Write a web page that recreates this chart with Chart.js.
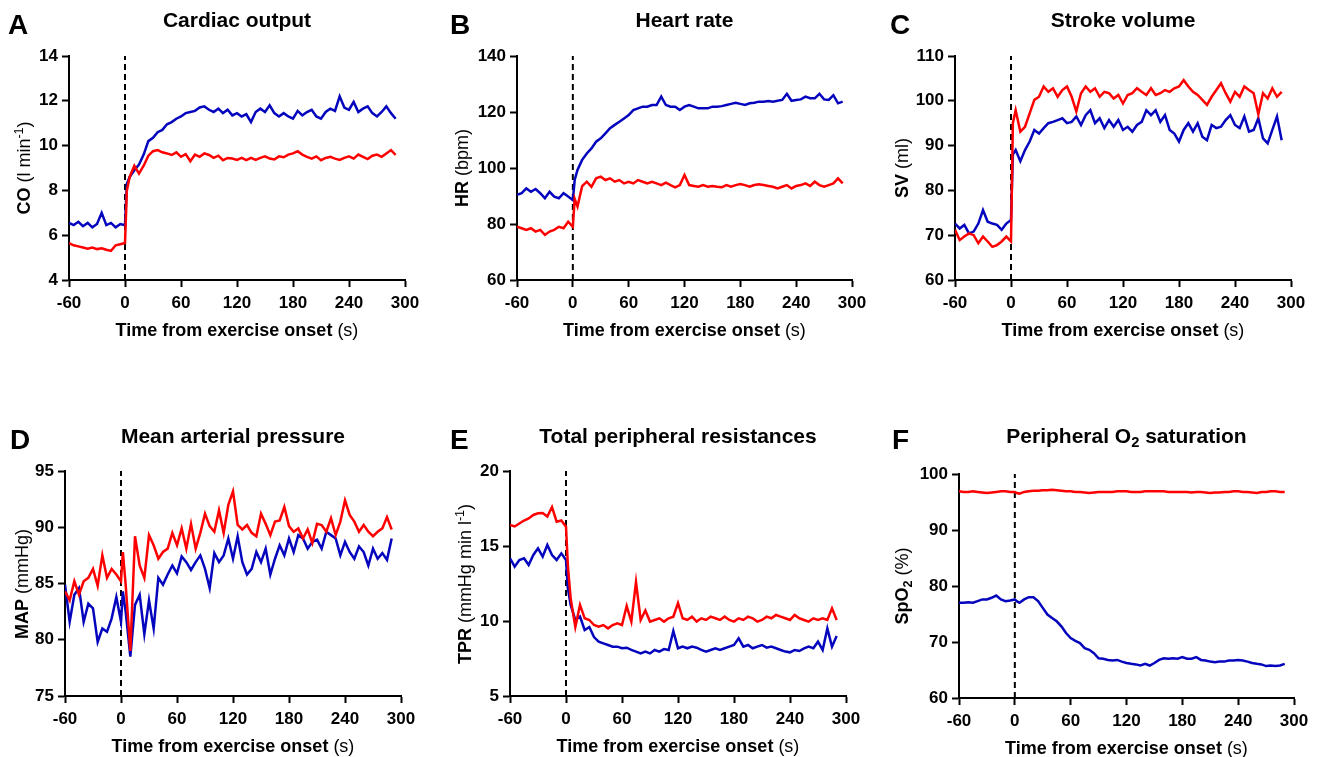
<!DOCTYPE html>
<html>
<head>
<meta charset="utf-8">
<script src="https://cdn.jsdelivr.net/npm/chart.js@4.4.1/dist/chart.umd.min.js"></script>
<style>
  html, body { margin: 0; padding: 0; background: #fff; }
  body { width: 1320px; height: 757px; position: relative; overflow: hidden; font-family: "Liberation Sans", Arial, sans-serif; color: #000; }
  canvas { position: absolute; }
  .txt { position: absolute; white-space: nowrap; line-height: 1; }
  .letter { font-size: 28px; font-weight: bold; }
  .title { font-size: 21px; font-weight: bold; text-align: center; }
  .xt { font-size: 18px; text-align: center; }
  .yt { font-size: 18px; text-align: center; line-height: 22px; height: 22px; transform: rotate(-90deg); transform-origin: 50% 50%; }
  sub { font-size: 0.7em; vertical-align: -0.3em; line-height: 0; }
  sup { font-size: 0.7em; vertical-align: 0.55em; line-height: 0; }
</style>
</head>
<body>
<script>
// ---------- DATA ----------
const time = [-60,-55,-50,-45,-40,-35,-30,-25,-20,-15,-10,-5,0,2,
  5,10,15,20,25,30,35,40,45,50,
  55,60,65,70,75,80,85,90,95,100,
  105,110,115,120,125,130,135,140,145,150,
  155,160,165,170,175,180,185,190,195,200,
  205,210,215,220,225,230,235,240,245,250,
  255,260,265,270,275,280,285,290];

const xTicks = [-60, 0, 60, 120, 180, 240, 300];

// A: Cardiac output (l/min)
const coTicks = [4, 6, 8, 10, 12, 14];
const coBlue = [6.55,6.45,6.6,6.4,6.55,6.35,6.5,7.0,6.45,6.55,6.35,6.5,6.45,8.3,
  8.6,8.9,9.15,9.6,10.2,10.35,10.6,10.7,10.95,11.05,
  11.2,11.3,11.45,11.5,11.55,11.7,11.75,11.6,11.5,11.65,
  11.45,11.6,11.35,11.45,11.3,11.4,11.05,11.5,11.65,11.5,
  11.8,11.45,11.3,11.45,11.3,11.2,11.55,11.35,11.5,11.6,
  11.3,11.2,11.5,11.65,11.55,12.2,11.7,11.6,11.95,11.5,
  11.65,11.75,11.45,11.3,11.5,11.75,11.45,11.2];
const coRed = [5.65,5.55,5.5,5.45,5.4,5.45,5.38,5.42,5.35,5.3,5.55,5.6,5.65,8.0,
  8.6,9.1,8.75,9.1,9.55,9.75,9.8,9.7,9.65,9.58,
  9.7,9.5,9.62,9.3,9.6,9.5,9.65,9.58,9.45,9.55,
  9.35,9.45,9.42,9.36,9.45,9.35,9.45,9.36,9.45,9.52,
  9.42,9.38,9.52,9.48,9.6,9.65,9.75,9.6,9.5,9.42,
  9.52,9.35,9.45,9.5,9.42,9.36,9.45,9.52,9.42,9.6,
  9.5,9.4,9.55,9.6,9.5,9.65,9.8,9.58];

// B: Heart rate (bpm)
const hrTicks = [60, 80, 100, 120, 140];
const hrBlue = [90.4,91,92.7,91.5,92.5,91,89.2,91.5,89.8,89.2,91,89.8,88.5,95.7,
  99.3,102.9,105.2,107,109.4,110.6,112.4,114.2,115.4,116.5,
  117.7,118.9,120.7,121.3,121.9,121.9,122.5,122.5,125.5,122.5,
  121.9,121.9,120.7,121.9,122.5,121.9,121.3,121.3,121.3,121.9,
  121.9,122.1,122.5,122.9,123.3,122.9,122.5,123.1,123.3,123.7,
  123.7,123.9,123.7,124.0,124.3,126.5,124.0,124.3,124.5,125.5,
  124.9,124.9,126.5,124.5,124.3,126.0,123.1,123.7];
const hrRed = [79,78.5,77.9,78.5,77.3,77.9,76.1,77.3,77.9,79,78.5,80.8,79,89,
  86.2,93.5,95.1,93.3,96.3,96.9,95.7,96.3,95.1,95.7,
  94.5,95.1,94.5,95.7,95.1,94.5,95.1,94.5,93.9,94.8,
  93.9,93.1,93.9,97.5,93.9,93.6,93.3,93.9,93.3,93.6,
  93.3,93.1,93.9,93.3,93.9,94.3,93.9,93.3,93.9,94.2,
  93.9,93.6,93.3,92.7,93.3,93.9,92.7,93.6,93.9,94.5,
  93.6,95.1,93.9,93.3,93.9,94.5,96.3,94.5];

// C: Stroke volume (ml)
const svTicks = [60, 70, 80, 90, 100, 110];
const svBlue = [72.6,71.5,72.3,70.4,70.8,72.6,75.6,73.0,72.6,72.3,71.2,72.6,73.4,88,
  89,86.5,89,90.9,93.5,92.7,93.9,95,95.3,95.7,
  96.1,95.0,95.3,96.5,94.6,96.8,97.9,95.0,96.1,93.9,
  95.7,94.2,95.7,93.5,94.2,93.1,94.6,95.3,97.9,96.8,
  97.9,95.3,96.8,93.5,92.7,90.9,93.5,95.0,93.1,95.0,
  92.0,91.2,94.6,93.9,94.2,95.7,96.8,94.6,93.9,96.5,
  93.1,93.5,96.1,91.6,90.5,93.5,96.5,91.2];
const svRed = [71.2,68.9,69.7,70.4,70.0,68.2,69.7,68.6,67.4,67.8,68.6,69.7,68.6,95,
  97.9,93.1,94.2,97.2,100.2,100.9,103.2,102.0,102.8,100.9,
  102.4,103.2,100.9,97.6,101.7,103.2,102.0,102.8,100.9,102.0,
  101.7,100.5,101.3,99.4,101.3,101.7,102.8,102.0,101.3,102.8,
  101.3,101.7,102.4,102.0,102.8,103.2,104.6,103.2,102.0,101.3,
  100.2,99.1,100.9,102.4,103.9,101.7,99.8,102.0,100.9,103.2,
  102.4,101.7,97.0,101.7,100.5,102.8,100.9,102.0];

// D: Mean arterial pressure (mmHg)
const mapTicks = [75, 80, 85, 90, 95];
const mapBlue = [84.9,81.6,84.0,84.6,81.6,83.2,82.8,79.8,81.0,80.7,81.9,83.8,81.6,84.3,
  82.5,78.5,83.1,84.0,80.5,83.5,81.0,85.5,84.9,85.8,
  86.6,85.9,87.4,86.9,86.2,86.9,87.5,86.3,84.6,87.7,
  86.9,87.5,89.0,87.2,89.2,86.9,85.8,86.3,87.8,86.9,
  88.1,85.8,87.2,88.4,87.5,89.0,87.8,89.3,89.0,88.1,
  88.7,88.9,88.1,89.6,89.3,89.0,87.5,88.7,87.8,87.2,
  88.3,87.8,86.6,88.1,87.2,87.7,87.1,89.0];
const mapRed = [84.3,83.5,85.2,84.0,85.2,85.5,86.3,84.8,87.5,85.5,86.3,85.8,85.2,87.8,
  84.9,79.0,89.2,86.6,85.5,89.3,88.4,87.2,87.8,88.1,
  89.5,88.4,89.9,88.1,90.3,88.1,89.5,91.2,90.1,89.6,
  91.5,89.5,92.0,93.2,90.2,89.8,90.2,89.5,89.2,91.2,
  90.3,89.3,90.5,90.6,91.8,90.1,89.6,89.9,89.0,89.8,
  88.6,90.3,90.2,89.6,90.8,89.3,90.5,92.4,91.1,90.5,
  89.6,90.2,89.6,89.2,89.6,89.9,90.9,89.8];

// E: Total peripheral resistances (mmHg min l-1)
const tprTicks = [5, 10, 15, 20];
const tprBlue = [14.18,13.62,14.07,14.18,13.73,14.4,14.84,14.29,15.07,14.4,14.07,14.51,14.07,12.18,
  11.07,10.07,10.3,9.4,9.6,8.93,8.62,8.51,8.4,8.29,
  8.29,8.18,8.22,8.07,7.96,7.84,7.96,7.84,8.07,7.96,
  8.13,8.07,9.33,8.18,8.29,8.18,8.29,8.22,8.07,7.96,
  8.07,8.18,8.07,8.18,8.29,8.4,8.84,8.29,8.4,8.18,
  8.29,8.4,8.22,8.29,8.18,8.07,7.96,7.91,8.07,8.0,
  8.18,8.29,8.18,8.62,8.07,9.5,8.29,9.0];
const tprRed = [16.4,16.3,16.5,16.7,16.84,17.07,17.18,17.2,16.96,17.6,16.62,16.7,16.29,13.7,
  11.5,9.6,11.07,10.18,10.07,9.73,9.62,9.73,9.51,9.73,
  9.84,9.73,11.0,9.96,12.6,10.07,10.7,9.96,10.07,10.18,
  9.96,10.18,10.29,11.2,10.18,10.07,10.29,9.96,10.18,10.07,
  10.29,10.18,10.07,10.29,10.07,9.96,10.18,10.07,10.29,10.18,
  9.96,10.07,10.29,10.18,10.4,10.29,10.18,10.07,10.4,10.18,
  10.07,9.96,10.18,10.07,10.18,10.07,10.84,10.07];

// F: Peripheral O2 saturation (%)
const spoTicks = [60, 70, 80, 90, 100];
const spoBlue = [77.0,77.0,77.1,77.0,77.3,77.6,77.6,77.9,78.3,77.6,77.3,77.4,77.6,77.3,
  77.0,77.6,78.0,78.0,77.3,76.1,74.9,74.3,73.7,72.8,
  71.6,70.7,70.2,69.8,68.9,68.6,68.0,67.1,67.0,66.8,
  66.7,66.8,66.5,66.25,66.1,66.0,65.8,66.1,65.8,66.25,
  66.8,67.1,67.0,67.1,67.0,67.3,67.0,67.0,67.3,66.8,
  66.7,66.5,66.4,66.5,66.5,66.7,66.7,66.8,66.7,66.5,
  66.25,66.1,66.0,65.7,65.8,65.7,65.8,66.1];
const spoRed = [96.9,96.8,96.8,96.9,96.8,96.7,96.6,96.7,96.8,96.9,96.9,96.8,96.8,96.6,
  96.5,96.8,96.9,97.0,97.0,97.1,97.1,97.2,97.1,97.0,
  96.9,96.9,96.8,96.8,96.7,96.6,96.7,96.8,96.8,96.8,
  96.8,96.9,96.9,96.9,96.8,96.8,96.8,96.9,96.9,96.9,
  96.9,96.9,96.8,96.8,96.8,96.8,96.8,96.7,96.8,96.8,
  96.7,96.6,96.7,96.7,96.8,96.8,96.9,96.9,96.8,96.8,
  96.7,96.6,96.8,96.8,96.9,96.9,96.8,96.8];

// ---------- LAYOUT / STYLE ----------
const BLUE = 'rgb(5,5,190)';
const RED = 'rgb(255,0,0)';
const FONT = '"Liberation Sans", Arial, sans-serif';

const panels = [
  { letter: 'A', title: 'Cardiac output', ytitle: '<b>CO</b> (l min<sup>-1</sup>)',
    ticks: coTicks, blue: coBlue, red: coRed,
    cx: 0, cy: 0, cw: 440, ch: 340, L: 69, R: 405, T: 56, B: 280,
    lx: 8, lbase: 35, tbase: 27, ytx: 24 },
  { letter: 'B', title: 'Heart rate', ytitle: '<b>HR</b> (bpm)',
    ticks: hrTicks, blue: hrBlue, red: hrRed,
    cx: 440, cy: 0, cw: 440, ch: 340, L: 517, R: 852, T: 56, B: 280,
    lx: 450, lbase: 35, tbase: 27, ytx: 462 },
  { letter: 'C', title: 'Stroke volume', ytitle: '<b>SV</b> (ml)',
    ticks: svTicks, blue: svBlue, red: svRed,
    cx: 880, cy: 0, cw: 440, ch: 340, L: 955, R: 1291, T: 56, B: 280,
    lx: 890, lbase: 35, tbase: 27, ytx: 902 },
  { letter: 'D', title: 'Mean arterial pressure', ytitle: '<b>MAP</b> (mmHg)',
    ticks: mapTicks, blue: mapBlue, red: mapRed,
    cx: 0, cy: 400, cw: 440, ch: 357, L: 65, R: 401, T: 471, B: 696,
    lx: 10, lbase: 450, tbase: 443, ytx: 22 },
  { letter: 'E', title: 'Total peripheral resistances', ytitle: '<b>TPR</b> (mmHg min l<sup>-1</sup>)',
    ticks: tprTicks, blue: tprBlue, red: tprRed,
    cx: 440, cy: 400, cw: 440, ch: 357, L: 510, R: 846, T: 471, B: 696,
    lx: 450, lbase: 450, tbase: 443, ytx: 465 },
  { letter: 'F', title: 'Peripheral O<sub>2</sub> saturation', ytitle: '<b>SpO<sub>2</sub></b> (%)',
    ticks: spoTicks, blue: spoBlue, red: spoRed,
    cx: 880, cy: 400, cw: 440, ch: 357, L: 959, R: 1294, T: 474, B: 698,
    lx: 892, lbase: 450, tbase: 443, ytx: 902 }
];

Chart.defaults.font.family = FONT;
Chart.defaults.color = '#000';

function addText(cls, html, style) {
  const d = document.createElement('div');
  d.className = 'txt ' + cls;
  d.innerHTML = html;
  Object.assign(d.style, style);
  document.body.appendChild(d);
  return d;
}

panels.forEach(p => {
  const cv = document.createElement('canvas');
  cv.width = p.cw; cv.height = p.ch;
  cv.style.left = p.cx + 'px'; cv.style.top = p.cy + 'px';
  document.body.appendChild(cv);

  const yAxisW = p.L - p.cx;
  const xAxisH = (p.cy + p.ch) - p.B;
  const yMin = p.ticks[0], yMax = p.ticks[p.ticks.length - 1];
  const pts = arr => time.map((t, i) => ({ x: t, y: arr[i] }));

  new Chart(cv, {
    type: 'line',
    data: {
      datasets: [
        { data: pts(p.red), borderColor: RED, borderWidth: 2.5, pointRadius: 0, tension: 0, fill: false },
        { data: pts(p.blue), borderColor: BLUE, borderWidth: 2.5, pointRadius: 0, tension: 0, fill: false },
        { data: [{ x: 0, y: yMin }, { x: 0, y: yMax }], borderColor: '#000', borderWidth: 2,
          borderDash: [6, 4], pointRadius: 0, fill: false }
      ]
    },
    options: {
      responsive: false,
      maintainAspectRatio: false,
      animation: false,
      events: [],
      layout: { padding: { left: 0, right: (p.cx + p.cw) - p.R, top: p.T - p.cy, bottom: 0 } },
      plugins: { legend: { display: false }, tooltip: { enabled: false }, title: { display: false } },
      scales: {
        x: {
          type: 'linear', min: -60, max: 300,
          afterBuildTicks: s => { s.ticks = xTicks.map(v => ({ value: v })); },
          afterFit: s => { s.height = xAxisH; },
          ticks: { font: { size: 17, weight: 'bold' }, color: '#000', padding: 6, maxRotation: 0, autoSkip: false },
          grid: { drawOnChartArea: false, drawTicks: true, tickLength: 7, tickWidth: 2, tickColor: '#000' },
          border: { display: true, color: '#000', width: 2 }
        },
        y: {
          type: 'linear', min: yMin, max: yMax,
          afterBuildTicks: s => { s.ticks = p.ticks.map(v => ({ value: v })); },
          afterFit: s => { s.width = yAxisW; },
          ticks: { font: { size: 17, weight: 'bold' }, color: '#000', padding: 4, autoSkip: false },
          grid: { drawOnChartArea: false, drawTicks: true, tickLength: 7, tickWidth: 2, tickColor: '#000' },
          border: { display: true, color: '#000', width: 2 }
        }
      }
    }
  });

  addText('letter', p.letter, { left: p.lx + 'px', top: (p.lbase - 23.7) + 'px' });
  addText('title', p.title, { left: p.L + 'px', width: (p.R - p.L) + 'px', top: (p.tbase - 17.8) + 'px' });
  addText('xt', '<b>Time from exercise onset</b> (s)', { left: (p.L - 40) + 'px', width: (p.R - p.L + 80) + 'px', top: (p.B + 56 - 15.2) + 'px' });
  const w = 300, cyc = (p.T + p.B) / 2;
  addText('yt', p.ytitle, { left: (p.ytx - w / 2) + 'px', top: (cyc - 11) + 'px', width: w + 'px' });
});
</script>
</body>
</html>
